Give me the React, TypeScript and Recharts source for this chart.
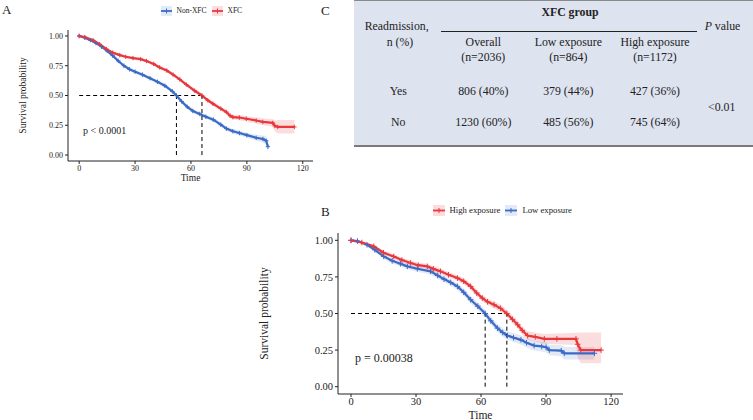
import React from 'react';
import { ComposedChart, Line, Area, XAxis, YAxis, ReferenceLine } from 'recharts';

const FONT = '"Liberation Serif", "Times New Roman", serif';
const INK = '#222';
const RED = '#e8383d';
const BLUE = '#3b6bc6';
const RED_BAND = 'rgba(232,56,61,0.17)';
const BLUE_BAND = 'rgba(59,107,198,0.15)';

const timeTicks = [0, 30, 60, 90, 120];
const survTicks = [0, 0.25, 0.5, 0.75, 1];

// [time, survival, lower CI, upper CI]
type Row = [number, number, number, number];

const nonXfc: Row[] = [
  [0, 1, 1, 1], [3, 0.985, 0.978, 0.992], [6, 0.965, 0.955, 0.975], [9, 0.94, 0.93, 0.95],
  [12, 0.91, 0.898, 0.922], [15, 0.875, 0.862, 0.888], [18, 0.835, 0.822, 0.848], [21, 0.79, 0.776, 0.804],
  [24, 0.75, 0.735, 0.765], [27, 0.72, 0.705, 0.735], [30, 0.7, 0.685, 0.715], [34, 0.675, 0.66, 0.69],
  [38, 0.645, 0.63, 0.66], [42, 0.615, 0.6, 0.63], [46, 0.582, 0.566, 0.598], [50, 0.535, 0.519, 0.551],
  [52.2, 0.5, 0.484, 0.516], [55, 0.45, 0.434, 0.466], [58, 0.405, 0.389, 0.421], [61, 0.37, 0.354, 0.386],
  [64.7, 0.345, 0.328, 0.362], [68, 0.322, 0.305, 0.339], [72, 0.297, 0.279, 0.315], [76, 0.255, 0.237, 0.273],
  [79, 0.222, 0.203, 0.241], [82.5, 0.2, 0.181, 0.219], [86, 0.185, 0.165, 0.205], [90, 0.167, 0.146, 0.188],
  [95, 0.145, 0.12, 0.17], [98.6, 0.135, 0.105, 0.165], [100.4, 0.12, 0.085, 0.155], [101.3, 0.07, 0.035, 0.11],
];

const xfc: Row[] = [
  [0, 1, 1, 1], [3, 0.99, 0.984, 0.996], [7.5, 0.964, 0.955, 0.973], [11, 0.93, 0.92, 0.94],
  [14.7, 0.889, 0.878, 0.9], [18, 0.86, 0.848, 0.872], [21.8, 0.839, 0.827, 0.851], [25, 0.825, 0.812, 0.838],
  [28.9, 0.814, 0.801, 0.827], [33, 0.805, 0.792, 0.818], [36.1, 0.79, 0.777, 0.803], [40, 0.765, 0.751, 0.779],
  [43.2, 0.736, 0.722, 0.75], [47, 0.71, 0.695, 0.725], [50.4, 0.675, 0.66, 0.69], [54, 0.635, 0.62, 0.65],
  [57.5, 0.592, 0.576, 0.608], [62, 0.54, 0.524, 0.556], [65.9, 0.5, 0.483, 0.517], [69, 0.46, 0.443, 0.477],
  [71.8, 0.431, 0.413, 0.449], [76, 0.39, 0.372, 0.408], [79, 0.361, 0.342, 0.38], [81, 0.33, 0.31, 0.35],
  [82.5, 0.319, 0.298, 0.34], [86, 0.315, 0.293, 0.337], [89.7, 0.305, 0.282, 0.328], [95, 0.29, 0.265, 0.315],
  [98.6, 0.278, 0.25, 0.306], [103.9, 0.27, 0.238, 0.302], [105, 0.245, 0.2, 0.29], [106.6, 0.236, 0.18, 0.295],
  [115.5, 0.236, 0.18, 0.295],
];

const lowExposure: Row[] = [
  [0, 1, 1, 1], [3, 0.995, 0.99, 1], [7.4, 0.97, 0.958, 0.982], [11, 0.935, 0.92, 0.95],
  [15.1, 0.89, 0.873, 0.907], [19, 0.86, 0.842, 0.878], [22.8, 0.84, 0.821, 0.859], [26, 0.822, 0.802, 0.842],
  [30.6, 0.806, 0.786, 0.826], [36.7, 0.788, 0.767, 0.809], [40, 0.76, 0.738, 0.782], [42.9, 0.735, 0.713, 0.757],
  [46, 0.712, 0.689, 0.735], [49.1, 0.685, 0.661, 0.709], [52, 0.645, 0.621, 0.669], [55.2, 0.594, 0.569, 0.619],
  [58.5, 0.55, 0.524, 0.576], [61.9, 0.5, 0.474, 0.526], [64.5, 0.45, 0.423, 0.477], [67.6, 0.4, 0.372, 0.428],
  [70, 0.37, 0.342, 0.398], [72.2, 0.349, 0.32, 0.378], [75, 0.335, 0.305, 0.365], [78.4, 0.32, 0.289, 0.351],
  [81, 0.3, 0.268, 0.332], [84.5, 0.281, 0.248, 0.314], [88, 0.275, 0.241, 0.309], [90, 0.27, 0.235, 0.305],
  [91.5, 0.25, 0.214, 0.286], [97, 0.246, 0.208, 0.284], [98.4, 0.228, 0.185, 0.271], [112.3, 0.228, 0.185, 0.271],
];

const highExposure: Row[] = [
  [0, 1, 1, 1], [5, 0.985, 0.977, 0.993], [10.5, 0.959, 0.948, 0.97], [15, 0.915, 0.901, 0.929],
  [19.7, 0.89, 0.875, 0.905], [23.5, 0.865, 0.849, 0.881], [27.5, 0.845, 0.828, 0.862], [31, 0.83, 0.813, 0.847],
  [35.2, 0.822, 0.804, 0.84], [38, 0.805, 0.787, 0.823], [41.3, 0.788, 0.769, 0.807], [45, 0.765, 0.746, 0.784],
  [49.1, 0.742, 0.722, 0.762], [52, 0.72, 0.7, 0.74], [55.2, 0.685, 0.664, 0.706], [58, 0.64, 0.618, 0.662],
  [60.6, 0.605, 0.583, 0.627], [63, 0.58, 0.557, 0.603], [66, 0.56, 0.536, 0.584], [69, 0.535, 0.511, 0.559],
  [71.9, 0.5, 0.475, 0.525], [74.5, 0.46, 0.434, 0.486], [76.9, 0.423, 0.396, 0.45], [79, 0.385, 0.357, 0.413],
  [81.5, 0.349, 0.32, 0.378], [85, 0.34, 0.309, 0.371], [89.2, 0.327, 0.294, 0.36], [95, 0.327, 0.29, 0.364],
  [103.8, 0.327, 0.285, 0.369], [104.6, 0.29, 0.2, 0.37], [106, 0.25, 0.16, 0.37], [115.4, 0.25, 0.16, 0.37],
];

const mediansA = [52.2, 65.9];
const mediansB = [61.9, 71.9];

const legendA = [
  { label: 'Non-XFC', color: BLUE, band: BLUE_BAND },
  { label: 'XFC', color: RED, band: RED_BAND },
];
const legendB = [
  { label: 'High exposure', color: RED, band: RED_BAND },
  { label: 'Low exposure', color: BLUE, band: BLUE_BAND },
];

const tableGroups = [
  { name: 'Overall', n: '(n=2036)' },
  { name: 'Low exposure', n: '(n=864)' },
  { name: 'High exposure', n: '(n=1172)' },
];
const rowYes = ['806 (40%)', '379 (44%)', '427 (36%)'];
const rowNo = ['1230 (60%)', '485 (56%)', '745 (64%)'];
const pValue = '<0.01';

const toPoints = (rows: Row[]) => rows.map(([t, s, lo, hi]) => ({ t, s, band: [lo, hi] }));

const plusDot = (color: string, r: number) => (props: any) => {
  const { cx, cy, index } = props;
  if (cx == null || cy == null) return <g key={index} />;
  return (
    <path key={index} d={`M${cx - r},${cy}h${2 * r}M${cx},${cy - r}v${2 * r}`} stroke={color} strokeWidth={1} />
  );
};

type Series = { rows: Row[]; color: string; band: string };

const KMPanel = ({ series, medians, width, height, margin, yWidth, xHeight, tickSize, labelSize,
  yLabelOffset, xLabelOffset, dot, lineW }: any) => {
  const tickStyle = { fontSize: tickSize, fill: INK, fontFamily: FONT };
  const medMax = Math.max(...medians);
  return (
    <ComposedChart width={width} height={height} margin={margin}>
      <XAxis
        type="number" dataKey="t" domain={[-6, 125.5]} ticks={timeTicks} allowDataOverflow
        tick={tickStyle} tickSize={3} tickMargin={1} height={xHeight}
        stroke={INK} axisLine={{ stroke: INK }} tickLine={{ stroke: INK }}
        label={{ value: 'Time', position: 'insideBottom', offset: xLabelOffset, fontSize: labelSize, fill: INK, fontFamily: FONT }}
      />
      <YAxis
        type="number" domain={[-0.05, 1.05]} ticks={survTicks} allowDataOverflow width={yWidth}
        tickFormatter={(v: number) => v.toFixed(2)}
        tick={tickStyle} tickSize={3} tickMargin={2}
        stroke={INK} axisLine={{ stroke: INK }} tickLine={{ stroke: INK }}
        label={{ value: 'Survival probability', angle: -90, position: 'insideLeft', offset: yLabelOffset,
          fontSize: labelSize, fill: INK, fontFamily: FONT, style: { textAnchor: 'middle' } }}
      />
      {series.map((s: Series, i: number) => (
        <Area key={'b' + i} data={toPoints(s.rows)} dataKey="band" type="linear" stroke="none"
          fill={s.band} fillOpacity={1} isAnimationActive={false} />
      ))}
      {series.map((s: Series, i: number) => (
        <Line key={'l' + i} data={toPoints(s.rows)} dataKey="s" type="linear" stroke={s.color}
          strokeWidth={lineW} dot={plusDot(s.color, dot)} activeDot={false} isAnimationActive={false} />
      ))}
      <ReferenceLine segment={[{ x: 0, y: 0.5 }, { x: medMax, y: 0.5 }]} stroke="#000" strokeDasharray="4 3" />
      {medians.map((m: number) => (
        <ReferenceLine key={m} segment={[{ x: m, y: 0 }, { x: m, y: 0.5 }]} stroke="#000" strokeDasharray="4 3" />
      ))}
    </ComposedChart>
  );
};

const LegendRow = ({ items, left, top, fontSize, keyW, keyH }: any) => (
  <div style={{ position: 'absolute', left, top, display: 'flex', alignItems: 'center', fontFamily: FONT, fontSize, color: INK }}>
    {items.map((it: any) => (
      <div key={it.label} style={{ display: 'flex', alignItems: 'center', marginRight: 5 }}>
        <svg width={keyW} height={keyH} style={{ display: 'block', marginRight: 5 }}>
          <rect x={0} y={0} width={keyW} height={keyH} fill={it.band} />
          <line x1={0} x2={keyW} y1={keyH / 2} y2={keyH / 2} stroke={it.color} strokeWidth={1.8} />
          <line x1={keyW / 2} x2={keyW / 2} y1={keyH / 2 - 2.5} y2={keyH / 2 + 2.5} stroke={it.color} strokeWidth={1} />
        </svg>
        <span style={{ lineHeight: 1 }}>{it.label}</span>
      </div>
    ))}
  </div>
);

const Txt = ({ x, y, size, children, bold, italic, align = 'center' }: any) => (
  <div style={{
    position: 'absolute', top: y - size * 0.5, left: align === 'center' ? x - 100 : x,
    width: align === 'center' ? 200 : undefined, textAlign: align === 'center' ? 'center' : 'left',
    fontFamily: FONT, fontSize: size, lineHeight: 1, color: INK, whiteSpace: 'nowrap',
    fontWeight: bold ? 'bold' : 'normal', fontStyle: italic ? 'italic' : 'normal',
  }}>{children}</div>
);

const colX = [483.3, 568.3, 655];
const TS = 11.8;

export default function App() {
  return (
    <div style={{ position: 'absolute', left: 0, top: 0, width: 753, height: 420, background: '#fff', overflow: 'hidden' }}>
      {/* Panel A */}
      <div style={{ position: 'absolute', left: 0, top: 0 }}>
        <KMPanel
          series={[{ rows: nonXfc, color: BLUE, band: BLUE_BAND }, { rows: xfc, color: RED, band: RED_BAND }]}
          medians={mediansA} width={330} height={190} margin={{ top: 30, right: 17, bottom: 4, left: 0 }}
          yWidth={68} xHeight={25} tickSize={8} labelSize={9.5} yLabelOffset={22.5} xLabelOffset={5} dot={2.2} lineW={2.2}
        />
      </div>
      <Txt x={2} y={9.2} size={13} align="left">A</Txt>
      <LegendRow items={legendA} left={160.5} top={6} fontSize={7.5} keyW={11} keyH={10} />
      <Txt x={83} y={131} size={10} align="left">p &lt; 0.0001</Txt>

      {/* Panel B */}
      <div style={{ position: 'absolute', left: 240, top: 200 }}>
        <KMPanel
          series={[{ rows: lowExposure, color: BLUE, band: BLUE_BAND }, { rows: highExposure, color: RED, band: RED_BAND }]}
          medians={mediansB} width={400} height={220} margin={{ top: 33, right: 17, bottom: 0, left: 0 }}
          yWidth={98} xHeight={26} tickSize={10.5} labelSize={11.5} yLabelOffset={24} xLabelOffset={1.5} dot={2.8} lineW={2.2}
        />
      </div>
      <Txt x={321} y={211} size={13} align="left">B</Txt>
      <LegendRow items={legendB} left={432.5} top={205} fontSize={8.7} keyW={12} keyH={11} />
      <Txt x={355} y={357.5} size={12} align="left">p = 0.00038</Txt>

      {/* Panel C table */}
      <Txt x={321} y={10} size={13} align="left">C</Txt>
      <div style={{ position: 'absolute', left: 354, top: 0, width: 399, height: 147, background: '#dee3f0',
        borderTop: '1.5px solid #8a8a8a', borderBottom: '2px solid #7a7a7a', boxSizing: 'border-box' }} />
      <div style={{ position: 'absolute', left: 441, top: 31, width: 256, height: 1, background: '#222' }} />
      <Txt x={570} y={13.3} size={TS} bold>XFC group</Txt>
      <Txt x={396.7} y={26.7} size={TS}>Readmission,</Txt>
      <Txt x={400} y={43.3} size={TS}>n (%)</Txt>
      <Txt x={722.5} y={26.7} size={TS}><i>P</i> value</Txt>
      {tableGroups.map((g, i) => (
        <React.Fragment key={g.name}>
          <Txt x={colX[i]} y={43.3} size={TS}>{g.name}</Txt>
          <Txt x={colX[i]} y={58.3} size={TS}>{g.n}</Txt>
          <Txt x={colX[i]} y={91.7} size={TS}>{rowYes[i]}</Txt>
          <Txt x={colX[i]} y={123.3} size={TS}>{rowNo[i]}</Txt>
        </React.Fragment>
      ))}
      <Txt x={398.3} y={91.7} size={TS}>Yes</Txt>
      <Txt x={398.3} y={123.3} size={TS}>No</Txt>
      <Txt x={721.7} y={108.3} size={TS}>{pValue}</Txt>
    </div>
  );
}
